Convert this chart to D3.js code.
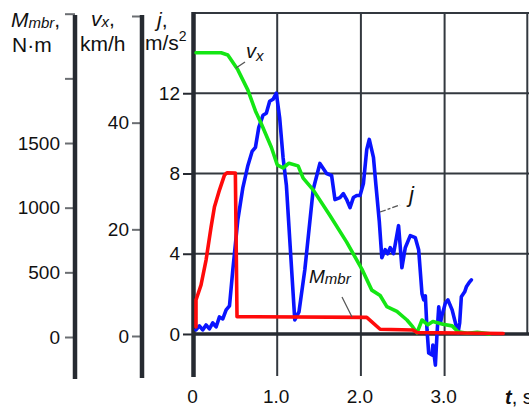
<!DOCTYPE html>
<html>
<head>
<meta charset="utf-8">
<script src="https://cdn.jsdelivr.net/npm/d3@7"></script>
<style>
body { margin: 0; background: #fff; }
text { font-family: "Liberation Sans", Arial, sans-serif; fill: #111; }
</style>
</head>
<body>
<div id="chart"></div>
<script>
// braking run: time t (s) for each curve
const vTime  = [0.03, 0.33, 0.41, 0.53, 0.65, 0.74, 0.81, 0.93, 1.00, 1.07, 1.14, 1.25, 1.31, 1.43, 1.63, 1.83, 2.01, 2.13, 2.23, 2.31, 2.43, 2.55, 2.62, 2.67, 2.73, 2.80, 2.86, 2.98, 3.09, 3.16, 3.27, 3.39, 3.54]
const vSpeed = [53.1, 53.1, 52.7, 49.9, 46.1, 42.2, 39.8, 35.4, 32.1, 31.5, 32.4, 31.9, 29.6, 27.4, 22.6, 17.6, 12.6, 8.6, 7.6, 5.5, 4.6, 3.0, 1.7, 0.6, 3.0, 2.1, 2.7, 2.2, 1.9, 0.8, 0.5, 0.7, 0.4]

const jTime  = [0.03, 0.07, 0.11, 0.15, 0.19, 0.23, 0.27, 0.31, 0.35, 0.39, 0.43, 0.47, 0.53, 0.59, 0.65, 0.70, 0.74, 0.78, 0.83, 0.87, 0.91, 0.95, 0.99, 1.03, 1.07, 1.11, 1.15, 1.21, 1.26, 1.33, 1.43, 1.51, 1.59, 1.65, 1.69, 1.75, 1.79, 1.83, 1.87, 1.91, 1.95, 1.99, 2.03, 2.07, 2.10, 2.15, 2.18, 2.22, 2.25, 2.29, 2.32, 2.35, 2.39, 2.45, 2.49, 2.53, 2.59, 2.65, 2.69, 2.73, 2.75, 2.77, 2.79, 2.81, 2.85, 2.86, 2.89, 2.91, 2.93, 2.95, 2.97, 3.01, 3.04, 3.09, 3.12, 3.16, 3.18, 3.20, 3.24, 3.26, 3.30, 3.32]
const jDecel = [0.2, 0.4, 0.2, 0.45, 0.25, 0.55, 0.35, 0.85, 0.75, 1.2, 1.4, 3.2, 5.7, 7.3, 8.4, 9.1, 9.3, 10.3, 10.9, 11.0, 11.6, 11.7, 12.0, 10.75, 8.8, 7.4, 4.7, 0.7, 1.1, 3.2, 7.2, 8.5, 8.0, 7.9, 6.7, 6.8, 7.0, 6.7, 6.3, 6.8, 6.9, 6.9, 7.5, 9.2, 9.7, 8.8, 7.4, 5.6, 3.8, 4.2, 4.0, 4.3, 4.0, 5.4, 3.3, 4.3, 4.9, 4.8, 4.2, 2.0, 1.7, 1.9, 0.2, -0.95, -1.05, -0.55, -1.55, 0.05, 1.35, 0.55, 0.95, 1.55, 1.7, 1.2, 0.7, 0.05, 0.55, 1.85, 2.1, 2.35, 2.6, 2.7]

const mTime   = [0.03, 0.03, 0.09, 0.15, 0.21, 0.25, 0.31, 0.37, 0.40, 0.50, 0.52, 2.07, 2.23, 2.62, 2.67, 3.70]
const mTorque = [77, 286, 402, 595, 850, 1005, 1136, 1252, 1270, 1268, 157, 152, 60, 54, 35, 27]

const timeTicks = [0, 1, 2, 3]
const jTicks = [0, 4, 8, 12]
const vTicks = [0, 20, 40, 60]
const mTicks = [0, 500, 1000, 1500, 2000, 2500]

const width = 529
const height = 407
const dark = "#262a31"

const svg = d3.select("#chart").append("svg").attr("width", width).attr("height", height)

var x = d3.scaleLinear().domain([0, 4]).range([193.5, 528.3])
var yJ = d3.scaleLinear().domain([-2, 16]).range([374.1, 13])
var yV = d3.scaleLinear().domain([0, 60]).range([336, 16])
var yM = d3.scaleLinear().domain([0, 2500]).range([337, 13.7])

// grid
const grid = svg.append("g").attr("id", "grid")
grid.selectAll(".vgrid").data([1, 2, 3]).enter().append("line")
    .attr("x1", d => x(d)).attr("x2", d => x(d))
    .attr("y1", yJ(16)).attr("y2", 376)
    .attr("stroke", "#33383f").attr("stroke-width", 2)
grid.append("line")
    .attr("x1", x(4) - 1).attr("x2", x(4) - 1)
    .attr("y1", yJ(16)).attr("y2", yJ(0))
    .attr("stroke", "#33383f").attr("stroke-width", 2)
grid.selectAll(".hgrid").data([4, 8, 12, 16]).enter().append("line")
    .attr("x1", x(0)).attr("x2", width)
    .attr("y1", d => yJ(d)).attr("y2", d => yJ(d))
    .attr("stroke", "#33383f").attr("stroke-width", 2)
grid.append("line")
    .attr("x1", x(0)).attr("x2", width)
    .attr("y1", yJ(0)).attr("y2", yJ(0))
    .attr("stroke", dark).attr("stroke-width", 3.5)

// axes
function styleAxis(g, tickColor) {
    g.select(".domain").remove()
    g.selectAll(".tick line").attr("stroke", tickColor).attr("stroke-width", 2)
    g.selectAll(".tick text").attr("font-size", 19).attr("fill", "#111")
        .attr("font-family", "Liberation Sans, Arial, sans-serif")
}

const mAxisGroup = svg.append("g").attr("transform", "translate(75, 0)")
    .call(d3.axisLeft(yM).tickValues(mTicks).tickSize(10).tickPadding(5).tickFormat(d => d <= 1500 ? d : ""))
styleAxis(mAxisGroup, "#6b6e72")
const vAxisGroup = svg.append("g").attr("transform", "translate(142, 0)")
    .call(d3.axisLeft(yV).tickValues(vTicks).tickSize(10).tickPadding(3).tickFormat(d => d <= 40 ? d : ""))
styleAxis(vAxisGroup, "#6b6e72")
const jAxisGroup = svg.append("g").attr("transform", "translate(193, 0)")
    .call(d3.axisLeft(yJ).tickValues(jTicks).tickSize(10).tickPadding(3))
styleAxis(jAxisGroup, dark)

const xAxisGroup = svg.append("g").attr("transform", "translate(-1.5, 377)")
    .call(d3.axisBottom(x).tickValues(timeTicks).tickSize(0).tickPadding(13).tickFormat(d => d === 0 ? "0" : d.toFixed(1)))
styleAxis(xAxisGroup, dark)

// thick vertical axis lines
svg.selectAll(".axisLine").data([[75, 15, 379], [142, 15, 378], [193.5, 12, 377]]).enter().append("line")
    .attr("x1", d => d[0]).attr("x2", d => d[0])
    .attr("y1", d => d[1]).attr("y2", d => d[2])
    .attr("stroke", dark).attr("stroke-width", 4.5)

// curves
const lineJ = d3.line().x((d, i) => x(jTime[i])).y(d => yJ(d))
const lineV = d3.line().x((d, i) => x(vTime[i])).y(d => yV(d))
const lineM = d3.line().x((d, i) => x(mTime[i])).y(d => yM(d))

const curves = svg.append("g").attr("fill", "none").attr("stroke-width", 3.6)
    .attr("stroke-linejoin", "round").attr("stroke-linecap", "round")
curves.append("path").attr("d", lineJ(jDecel)).attr("stroke", "#0a14ff")
curves.append("path").attr("d", lineV(vSpeed)).attr("stroke", "#14e614")
curves.append("path").attr("d", lineM(mTorque)).attr("stroke", "#ff0a0a")

// leader lines to curve names
const leaders = svg.append("g").attr("stroke", "#555").attr("stroke-width", 1.3)
leaders.append("line").attr("x1", 236).attr("y1", 68).attr("x2", 245).attr("y2", 62)
leaders.append("line").attr("x1", 380).attr("y1", 212).attr("x2", 400).attr("y2", 205).attr("stroke-dasharray", "6 2 3 2")
leaders.append("line").attr("x1", 342).attr("y1", 297).attr("x2", 352).attr("y2", 317)

// curve names
const vLabel = svg.append("text").attr("x", 246).attr("y", 58).attr("font-size", 20).attr("font-style", "italic")
vLabel.append("tspan").text("v")
vLabel.append("tspan").attr("font-size", 15).attr("dy", 3).text("x")
svg.append("text").attr("x", 409).attr("y", 202).attr("font-size", 22).attr("font-style", "italic").text("j")
const mLabel = svg.append("text").attr("x", 309).attr("y", 283).attr("font-size", 19).attr("font-style", "italic")
mLabel.append("tspan").text("M")
mLabel.append("tspan").attr("font-size", 15).attr("dy", 1).text("mbr")

// axis titles
const mTitle = svg.append("text").attr("x", 11).attr("y", 27).attr("font-size", 21)
mTitle.append("tspan").attr("font-style", "italic").text("M")
mTitle.append("tspan").attr("font-style", "italic").attr("font-size", 15).attr("dy", 1).text("mbr")
mTitle.append("tspan").attr("dy", -1).text(",")
svg.append("text").attr("x", 12).attr("y", 52).attr("font-size", 21).text("N·m")

const vTitle = svg.append("text").attr("x", 91).attr("y", 26).attr("font-size", 21)
vTitle.append("tspan").attr("font-style", "italic").text("v")
vTitle.append("tspan").attr("font-style", "italic").attr("font-size", 15).attr("dy", 1).text("x")
vTitle.append("tspan").attr("dy", -1).text(",")
svg.append("text").attr("x", 80).attr("y", 51).attr("font-size", 21).text("km/h")

const jTitle = svg.append("text").attr("x", 157).attr("y", 27).attr("font-size", 21)
jTitle.append("tspan").attr("font-style", "italic").text("j")
jTitle.append("tspan").text(",")
const jUnit = svg.append("text").attr("x", 145).attr("y", 50).attr("font-size", 21)
jUnit.append("tspan").text("m/s")
jUnit.append("tspan").attr("font-size", 14).attr("dy", -9).text("2")

const tTitle = svg.append("text").attr("x", 505).attr("y", 404).attr("font-size", 20)
tTitle.append("tspan").attr("font-style", "italic").attr("font-weight", "bold").text("t")
tTitle.append("tspan").text(", s")
</script>
</body>
</html>
